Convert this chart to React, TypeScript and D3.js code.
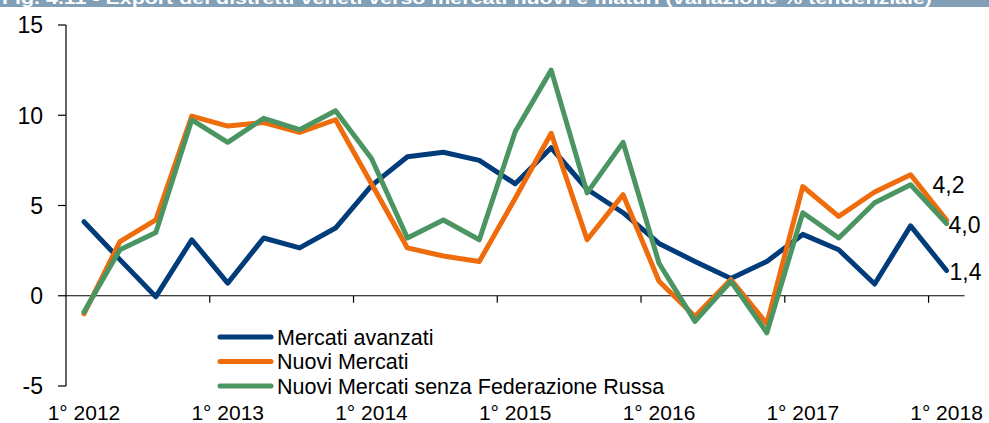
import React from "react";
import * as d3 from "d3";

const categories: string[] = [
  "2012Q1","2012Q2","2012Q3","2012Q4",
  "2013Q1","2013Q2","2013Q3","2013Q4",
  "2014Q1","2014Q2","2014Q3","2014Q4",
  "2015Q1","2015Q2","2015Q3","2015Q4",
  "2016Q1","2016Q2","2016Q3","2016Q4",
  "2017Q1","2017Q2","2017Q3","2017Q4",
  "2018Q1",
];
const tickLabels: { cat: string; label: string }[] = [
  { cat: "2012Q1", label: "1° 2012" },
  { cat: "2013Q1", label: "1° 2013" },
  { cat: "2014Q1", label: "1° 2014" },
  { cat: "2015Q1", label: "1° 2015" },
  { cat: "2016Q1", label: "1° 2016" },
  { cat: "2017Q1", label: "1° 2017" },
  { cat: "2018Q1", label: "1° 2018" },
];
const mercatiAvanzati: number[] = [
  4.1, 2.0, -0.05, 3.1, 0.7, 3.2, 2.65, 3.75, 6.1, 7.7, 7.95, 7.5, 6.2,
  8.2, 5.9, 4.6, 2.9, 1.9, 0.95, 1.9, 3.4, 2.55, 0.65, 3.87, 1.4,
];
const nuoviMercati: number[] = [
  -1.0, 3.0, 4.2, 9.95, 9.4, 9.6, 9.05, 9.75, 6.2, 2.65, 2.2, 1.9, 5.4,
  9.0, 3.1, 5.6, 0.8, -1.15, 0.9, -1.55, 6.05, 4.4, 5.75, 6.7, 4.2,
];
const nuoviSenzaRussia: number[] = [
  -0.9, 2.55, 3.5, 9.75, 8.5, 9.83, 9.2, 10.25, 7.6, 3.2, 4.2, 3.1, 9.1,
  12.5, 5.7, 8.5, 1.8, -1.42, 0.8, -2.05, 4.6, 3.2, 5.15, 6.15, 4.0,
];
const yTicks: number[] = [-5, 0, 5, 10, 15];
const seriesNames: string[] = [
  "Mercati avanzati",
  "Nuovi Mercati",
  "Nuovi Mercati senza Federazione Russa",
];
const endLabels: string[] = ["1,4", "4,2", "4,0"];
const title =
  "Fig. 4.11 - Export dei distretti veneti verso mercati nuovi e maturi (variazione % tendenziale)";

const COLORS = ["#003b7a", "#ef6c0c", "#4a9562"];
const FONT = "'Liberation Sans', Arial, sans-serif";

export default function App() {
  const W = 989;
  const H = 423;
  const x0 = 66;
  const x1 = 964.5;
  const x = d3.scaleBand<string>().domain(categories).range([x0, x1]).padding(0);
  const y = d3.scaleLinear().domain([-5, 15]).range([386, 25]);
  const cx = (c: string) => (x(c) as number) + x.bandwidth() / 2;

  const series = [mercatiAvanzati, nuoviMercati, nuoviSenzaRussia];
  const line = d3
    .line<number>()
    .x((_, i) => cx(categories[i]))
    .y((d) => y(d));

  const drawOrder = [0, 1, 2];

  const lastCat = categories[categories.length - 1];
  const endPos = [
    { x: cx(lastCat) + 3, y: y(mercatiAvanzati[24]) + 9.5 },
    { x: cx(lastCat) - 14, y: y(nuoviMercati[24]) - 27 },
    { x: cx(lastCat) + 2, y: y(nuoviSenzaRussia[24]) + 9.5 },
  ];

  return (
    <svg
      width={W}
      height={H}
      style={{ position: "absolute", left: 0, top: 0, display: "block" }}
      fontFamily={FONT}
    >
      <rect x={0} y={0} width={W} height={H} fill="#ffffff" />
      <rect x={0} y={0} width={W} height={7} fill="#819fb6" />
      <text
        x={2}
        y={4}
        fill="#ffffff"
        fontWeight="bold"
        fontSize={16}
        textLength={930}
        lengthAdjust="spacingAndGlyphs"
      >
        {title}
      </text>

      {/* Y axis */}
      <line x1={x0} x2={x0} y1={y(15)} y2={y(-5)} stroke="#000" strokeWidth={1.2} />
      {yTicks.map((t) => (
        <g key={t}>
          <line x1={x0 - 8} x2={x0} y1={y(t)} y2={y(t)} stroke="#000" strokeWidth={1.2} />
          <text
            x={x0 - 23}
            y={y(t)}
            dy="0.36em"
            textAnchor="end"
            fontSize={23}
            fill="#000"
          >
            {t}
          </text>
        </g>
      ))}

      {/* X axis at 0 */}
      <line x1={x0} x2={x1} y1={y(0)} y2={y(0)} stroke="#000" strokeWidth={1.2} />
      {tickLabels.slice(1).map((t) => (
        <line
          key={t.cat}
          x1={x(t.cat) as number}
          x2={x(t.cat) as number}
          y1={y(0)}
          y2={y(0) + 7}
          stroke="#000"
          strokeWidth={1.2}
        />
      ))}
      {tickLabels.map((t) => (
        <text
          key={t.cat}
          x={cx(t.cat)}
          y={420}
          textAnchor="middle"
          fontSize={21}
          fill="#000"
        >
          {t.label}
        </text>
      ))}

      {/* Series */}
      {drawOrder.map((i) => (
        <path
          key={i}
          d={line(series[i]) as string}
          fill="none"
          stroke={COLORS[i]}
          strokeWidth={5}
          strokeLinejoin="round"
          strokeLinecap="round"
        />
      ))}

      {/* End labels */}
      {endLabels.map((l, i) => (
        <text key={i} x={endPos[i].x} y={endPos[i].y} fontSize={23} fill="#000">
          {l}
        </text>
      ))}

      {/* Legend */}
      {seriesNames.map((n, i) => {
        const ly = 337 + i * 24.5;
        return (
          <g key={n}>
            <line
              x1={220}
              x2={271}
              y1={ly}
              y2={ly}
              stroke={COLORS[i]}
              strokeWidth={5}
              strokeLinecap="round"
            />
            <text x={277} y={ly} dy="0.36em" fontSize={21.5} fill="#000">
              {n}
            </text>
          </g>
        );
      })}
    </svg>
  );
}
